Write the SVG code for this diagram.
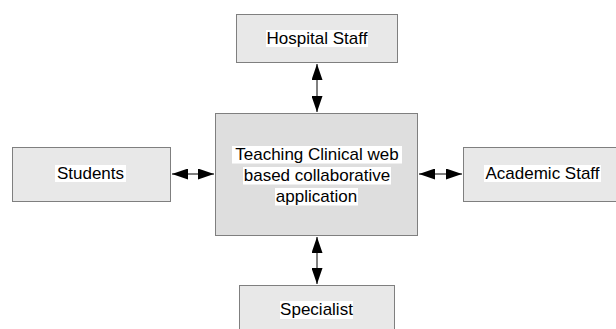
<svg xmlns="http://www.w3.org/2000/svg" width="616" height="329" viewBox="0 0 616 329">
<style>
.box{fill:#e8e8e8;stroke:#7f7f7f;stroke-width:1}
.main{fill:#dedede;stroke:#7f7f7f;stroke-width:1}
.hl{fill:#ffffff}
text{font-family:"Liberation Sans",Arial,sans-serif;font-size:17px;fill:#000;text-anchor:middle}
.conn{stroke:#000;stroke-width:1;fill:none;marker-start:url(#ah);marker-end:url(#ah)}
</style>
<defs>
<marker id="ah" viewBox="0 0 16 11" refX="16" refY="5.5" markerWidth="16" markerHeight="11" markerUnits="userSpaceOnUse" orient="auto-start-reverse">
<path d="M0,0 L16,5.5 L0,11 Z" fill="#000"/>
</marker>
</defs>
<g id="connectors">
<line class="conn" x1="317" y1="64" x2="317" y2="112"/>
<line class="conn" x1="317" y1="237" x2="317" y2="284"/>
<line class="conn" x1="172" y1="174" x2="214" y2="174"/>
<line class="conn" x1="419" y1="174" x2="462" y2="174"/>
</g>
<g id="hospital-staff">
<rect class="box" x="236.5" y="14.5" width="161" height="48"/>
<rect class="hl" x="266" y="30" width="102" height="17"/>
<text x="317" y="44">Hospital Staff</text>
</g>
<g id="students">
<rect class="box" x="12.5" y="147.5" width="158" height="54"/>
<rect class="hl" x="55" y="165" width="71" height="17"/>
<text x="90.5" y="179">Students</text>
</g>
<g id="academic-staff">
<rect class="box" x="463.5" y="147.5" width="160" height="54"/>
<rect class="hl" x="484" y="165" width="117" height="17"/>
<text x="542.5" y="179">Academic Staff</text>
</g>
<g id="specialist">
<rect class="box" x="239.5" y="285.5" width="155" height="50"/>
<rect class="hl" x="280" y="301" width="73" height="18"/>
<text x="316.5" y="315">Specialist</text>
</g>
<g id="teaching-app">
<rect class="main" x="215.5" y="113.5" width="202" height="122"/>
<rect class="hl" x="232" y="146" width="170" height="17.5"/>
<rect class="hl" x="243" y="167" width="148" height="17.5"/>
<rect class="hl" x="275" y="188" width="83" height="17.5"/>
<text x="317" y="160">Teaching Clinical web</text>
<text x="317" y="181">based collaborative</text>
<text x="316.5" y="202">application</text>
</g>
</svg>
